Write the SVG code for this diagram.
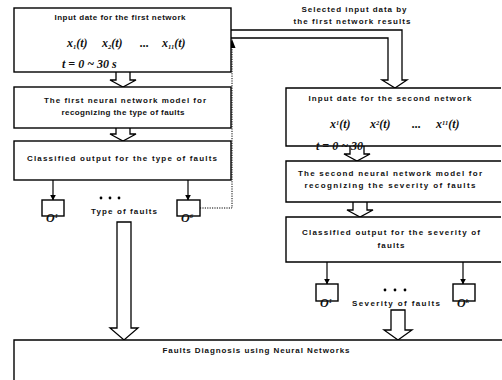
<svg xmlns="http://www.w3.org/2000/svg" width="502" height="380" viewBox="0 0 502 380">
<defs>
<style>
.box{fill:#fff;stroke:#000;stroke-width:1.4}
.t{font-family:"Liberation Sans",Arial,sans-serif;font-size:8px;font-weight:bold;fill:#111;text-anchor:middle}
.m{font-family:"Liberation Serif","Times New Roman",serif;font-style:italic;font-size:12px;font-weight:bold;fill:#111}
.s{font-size:6.5px}
.hol{fill:#fff;stroke:#000;stroke-width:1.3;stroke-linejoin:miter}
.ln{fill:none;stroke:#000;stroke-width:1.2}
.dot{fill:none;stroke:#000;stroke-width:1;stroke-dasharray:1.2 1.2}
</style>
<marker id="ah" viewBox="0 0 10 10" refX="9" refY="5" markerWidth="6" markerHeight="6" orient="auto" markerUnits="userSpaceOnUse"><path d="M0,0 L10,5 L0,10 z" fill="#000"/></marker>
</defs>
<g id="connectors">
<path class="hol" d="M116,72 V80 H110 L123,87 L136,80 H130 V72"/>
<path class="hol" d="M116,128 V134 H110 L123,141 L136,134 H130 V128"/>
<path class="hol" d="M117,222 V328 H110 L124,340 L138,328 H131 V222 Z"/>
<path class="hol" d="M350,146 V154 H344 L357,161 L370,154 H364 V146"/>
<path class="hol" d="M353,202 V210 H347 L360,217 L373,210 H367 V202"/>
<path class="hol" d="M391,310 V330 H384 L398,340 L412,330 H405 V310 Z"/>
<path class="hol" d="M231,30 H402 V80 H407 L395,88 L382,80 H388 V38 H231"/>
<line class="ln" x1="53" y1="180" x2="53" y2="200" marker-end="url(#ah)"/>
<line class="ln" x1="188" y1="180" x2="188" y2="200" marker-end="url(#ah)"/>
<line class="ln" x1="327" y1="262" x2="327" y2="284" marker-end="url(#ah)"/>
<line class="ln" x1="463" y1="262" x2="463" y2="284" marker-end="url(#ah)"/>
<polyline class="dot" points="200,208 232,208 232,48"/>
<path d="M228.5,48 L232,39 L235.5,48 z" fill="#000"/>
<text class="t" x="354" y="12" textLength="105" lengthAdjust="spacing">Selected input data by</text>
<text class="t" x="352" y="24" textLength="117" lengthAdjust="spacing">the first network results</text>
</g>
<g id="input1">
<rect class="box" x="14" y="8" width="217" height="64"/>
<text class="t" x="120" y="20" textLength="131" lengthAdjust="spacing">Input date for the first network</text>
<text class="m" x="67" y="47">x<tspan class="s" dy="2">1</tspan><tspan dy="-2">(t)</tspan></text>
<text class="m" x="102" y="47">x<tspan class="s" dy="2">2</tspan><tspan dy="-2">(t)</tspan></text>
<text class="m" x="140" y="47">...</text>
<text class="m" x="162" y="47">x<tspan class="s" dy="2">11</tspan><tspan dy="-2">(t)</tspan></text>
<text class="m" x="62" y="68" font-size="10">t = 0 ~ 30 s</text>
</g>
<g id="nn1">
<rect class="box" x="14" y="87" width="217" height="41"/>
<text class="t" x="125" y="103" textLength="162" lengthAdjust="spacing">The first neural network model for</text>
<text class="t" x="123" y="115" textLength="123" lengthAdjust="spacing">recognizing the type of faults</text>
</g>
<g id="out1">
<rect class="box" x="14" y="141" width="217" height="39"/>
<text class="t" x="122" y="161" textLength="190" lengthAdjust="spacing">Classified output for the type of faults</text>
</g>
<g id="o1">
<rect class="box" x="42" y="200" width="22" height="16"/>
<text class="m" x="46" y="222">O<tspan class="s" dy="-4">1</tspan></text>
</g>
<g id="o6">
<rect class="box" x="177" y="200" width="23" height="16"/>
<text class="m" x="181" y="222">O<tspan class="s" dy="-4">6</tspan></text>
</g>
<g id="type-label">
<circle cx="101" cy="198" r="1.4"/><circle cx="110" cy="198" r="1.4"/><circle cx="119" cy="198" r="1.4"/>
<text class="t" x="124" y="214" textLength="66" lengthAdjust="spacing">Type of faults</text>
</g>
<g id="input2">
<path class="box" d="M501,88 H286 V146 H501"/>
<text class="t" x="390" y="101" textLength="163" lengthAdjust="spacing">Input date for the second network</text>
<text class="m" x="330" y="128">x<tspan class="s" dy="-3">1</tspan><tspan dy="3">(t)</tspan></text>
<text class="m" x="370" y="128">x<tspan class="s" dy="-3">2</tspan><tspan dy="3">(t)</tspan></text>
<text class="m" x="412" y="128">...</text>
<text class="m" x="436" y="128">x<tspan class="s" dy="-3">11</tspan><tspan dy="3">(t)</tspan></text>
<text class="m" x="316" y="150" font-size="10">t = 0 ~ 30</text>
</g>
<g id="nn2">
<path class="box" d="M501,161 H286 V202 H501"/>
<text class="t" x="390" y="176" textLength="184" lengthAdjust="spacing">The second neural network model for</text>
<text class="t" x="390" y="188" textLength="171" lengthAdjust="spacing">recognizing the severity of faults</text>
</g>
<g id="out2">
<path class="box" d="M501,217 H286 V262 H501"/>
<text class="t" x="391" y="235" textLength="178" lengthAdjust="spacing">Classified output for the severity of</text>
<text class="t" x="391" y="248" textLength="27" lengthAdjust="spacing">faults</text>
</g>
<g id="s1">
<rect class="box" x="316" y="284" width="22" height="17"/>
<text class="m" x="320" y="307">O<tspan class="s" dy="-4">1</tspan></text>
</g>
<g id="sk">
<rect class="box" x="453" y="284" width="22" height="17"/>
<text class="m" x="457" y="307">O<tspan class="s" dy="-4">k</tspan></text>
</g>
<g id="sev-label">
<circle cx="385" cy="290" r="1.4"/><circle cx="395" cy="290" r="1.4"/><circle cx="405" cy="290" r="1.4"/>
<text class="t" x="396" y="306" textLength="88" lengthAdjust="spacing">Severity of faults</text>
</g>
<g id="diagnosis">
<path class="box" d="M14,380 V340 H502"/>
<text class="t" x="256" y="353" textLength="187" lengthAdjust="spacing">Faults Diagnosis using Neural Networks</text>
</g>
</svg>
